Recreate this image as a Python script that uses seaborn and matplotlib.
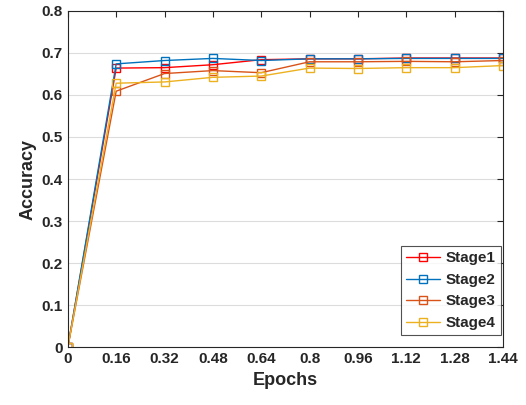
import numpy as np
import pandas as pd
import matplotlib
matplotlib.use("Agg")
import matplotlib.pyplot as plt
import seaborn as sns

epochs = [0, 0.16, 0.32, 0.48, 0.64, 0.8, 0.96, 1.12, 1.28, 1.44]
stage1 = [0, 0.664, 0.665, 0.672, 0.684, 0.686, 0.686, 0.688, 0.688, 0.688]
stage2 = [0, 0.674, 0.682, 0.687, 0.682, 0.686, 0.686, 0.687, 0.687, 0.687]
stage3 = [0, 0.609, 0.651, 0.658, 0.653, 0.679, 0.679, 0.680, 0.679, 0.682]
stage4 = [0, 0.628, 0.631, 0.642, 0.645, 0.664, 0.663, 0.665, 0.665, 0.670]
names = ["Stage1", "Stage2", "Stage3", "Stage4"]
colors = ["#ff0000", "#0072bd", "#d95319", "#edb120"]

sns.set_style("white")
plt.rcParams['font.family'] = ['Liberation Sans', 'DejaVu Sans']
plt.rcParams['font.weight'] = 'bold'

fig = plt.figure(figsize=(5.26, 4.05), dpi=100)
ax = fig.add_axes([0.129, 0.143, 0.827, 0.830])

for name, vals, c in zip(names, [stage1, stage2, stage3, stage4], colors):
    sns.lineplot(x=epochs, y=vals, ax=ax, color=c, marker='s', mfc='none',
                 mec=c, ms=6, mew=1.0, lw=1.0, label=name)

ax.set_xlim(0, 1.44)
ax.set_ylim(0, 0.8)
ax.set_xticks(epochs)
ax.set_xticklabels(["0", "0.16", "0.32", "0.48", "0.64", "0.8", "0.96", "1.12", "1.28", "1.44"])
ax.set_yticks(np.arange(0, 0.81, 0.1))
ax.set_yticklabels(["0", "0.1", "0.2", "0.3", "0.4", "0.5", "0.6", "0.7", "0.8"])
ax.yaxis.grid(True, color="#dcdcdc", lw=0.8)
ax.set_axisbelow(True)
ax.tick_params(direction='in', top=True, right=True, length=4, width=0.8,
               labelsize=11, colors="#262626")
for lab in ax.get_xticklabels() + ax.get_yticklabels():
    lab.set_fontweight('bold')
for s in ax.spines.values():
    s.set_color("#262626")
    s.set_linewidth(0.8)
ax.set_xlabel("Epochs", fontsize=13, fontweight='bold', color="#262626")
ax.set_ylabel("Accuracy", fontsize=13, fontweight='bold', color="#262626")

leg = ax.legend(loc='lower right', bbox_to_anchor=(1.0, 0.03), fontsize=11,
                frameon=True, fancybox=False, edgecolor="#262626",
                handlelength=2.2, borderpad=0.35, labelspacing=0.5,
                handletextpad=0.4, borderaxespad=0.1)
leg.get_frame().set_linewidth(0.8)
for t in leg.get_texts():
    t.set_fontweight('bold')

fig.savefig("out.png", dpi=100)
